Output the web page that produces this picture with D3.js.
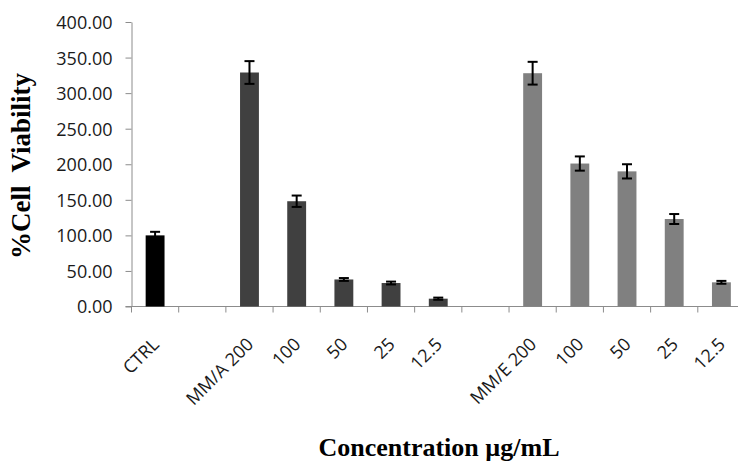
<!DOCTYPE html>
<html>
<head>
<meta charset="utf-8">
<script src="https://cdn.jsdelivr.net/npm/d3@7"></script>
<style>
  body { margin: 0; background: #fff; }
  svg { display: block; }
  .tick-label { font-family: "Open Sans", sans-serif; font-size: 18px; fill: #1a1a1a; }
  .title { font-family: "Liberation Serif", "Times New Roman", serif; font-weight: bold; fill: #000; }
</style>
</head>
<body>
<svg id="chart" width="738" height="476"></svg>
<script>
// categories along the x axis (blank ones are spacer slots)
const categories = ["CTRL", "", "MM/A 200", "100", "50", "25", "12.5", "", "MM/E 200", "100", "50", "25", "12.5"];
const groups = ["ctrl", null, "A", "A", "A", "A", "A", null, "E", "E", "E", "E", "E"];
// % cell viability and error
const viability = [100, null, 329, 148, 38, 33, 11, null, 328, 201, 190, 123, 34];
const errors = [5, null, 16, 8, 2, 2, 1.5, null, 16, 10, 10, 7, 2];
const yTicks = [0, 50, 100, 150, 200, 250, 300, 350, 400];

const colors = {ctrl: "#000000", A: "#404040", E: "#808080"};

let svg = d3.select("#chart");
let margin = {left: 131.5, top: 22, right: -7, bottom: 169.5};
let width = +svg.attr("width") - margin.left - margin.right;
let height = +svg.attr("height") - margin.top - margin.bottom;

let g = svg.append("g").attr("transform", `translate(${margin.left}, ${margin.top})`);

let x = d3.scaleBand()
    .domain(d3.range(categories.length))
    .range([0, width])
    .paddingInner(0.6)
    .paddingOuter(0.3);
let y = d3.scaleLinear().domain([0, 400]).range([height, 0]);

let step = x.step();
let axisColor = "#8c8c8c";

// y axis
let yAxis = g.append("g")
    .call(d3.axisLeft(y).tickValues(yTicks).tickSize(6).tickSizeOuter(0).tickFormat(d3.format(".2f")));
yAxis.select(".domain").attr("stroke", axisColor);
yAxis.selectAll(".tick line").attr("stroke", axisColor);
yAxis.selectAll(".tick text")
    .attr("class", "tick-label")
    .attr("x", -19)
    .attr("dy", "0.36em");

// x axis line + tick marks between categories
g.append("line")
    .attr("x1", -6).attr("x2", width)
    .attr("y1", height).attr("y2", height)
    .attr("stroke", axisColor);
let bounds = d3.range(categories.length + 1).map(i => i * step);
g.selectAll(".xtick")
    .data(bounds)
    .enter()
    .append("line")
    .attr("x1", d => d).attr("x2", d => d)
    .attr("y1", height).attr("y2", height + 6)
    .attr("stroke", axisColor);

// x tick labels, rotated
g.selectAll(".xlabel")
    .data(categories)
    .enter()
    .append("text")
    .attr("class", "tick-label")
    .attr("text-anchor", "end")
    .attr("transform", (d, i) => `translate(${x(i) + x.bandwidth() / 2 + 5}, ${height + 39}) rotate(-45)`)
    .text(d => d);

// bars
let barData = viability.map((v, i) => ({i: i, v: v, e: errors[i], grp: groups[i]})).filter(d => d.v !== null);

g.selectAll(".bar")
    .data(barData)
    .enter()
    .append("rect")
    .attr("x", d => x(d.i))
    .attr("y", d => y(d.v))
    .attr("width", x.bandwidth())
    .attr("height", d => height - y(d.v))
    .attr("fill", d => colors[d.grp]);

// error bars
let capW = 5;
let eb = g.selectAll(".err")
    .data(barData)
    .enter()
    .append("g")
    .attr("stroke", "#000")
    .attr("stroke-width", 2);
eb.append("line")
    .attr("x1", d => x(d.i) + x.bandwidth() / 2).attr("x2", d => x(d.i) + x.bandwidth() / 2)
    .attr("y1", d => y(d.v + d.e)).attr("y2", d => y(d.v - d.e));
eb.append("line")
    .attr("x1", d => x(d.i) + x.bandwidth() / 2 - capW).attr("x2", d => x(d.i) + x.bandwidth() / 2 + capW)
    .attr("y1", d => y(d.v + d.e)).attr("y2", d => y(d.v + d.e));
eb.append("line")
    .attr("x1", d => x(d.i) + x.bandwidth() / 2 - capW).attr("x2", d => x(d.i) + x.bandwidth() / 2 + capW)
    .attr("y1", d => y(d.v - d.e)).attr("y2", d => y(d.v - d.e));

// axis titles
svg.append("text")
    .attr("class", "title")
    .attr("font-size", 27)
    .attr("text-anchor", "middle")
    .attr("transform", `translate(30, 166) rotate(-90)`)
    .style("white-space", "pre")
    .text("%Cell  Viability");

svg.append("text")
    .attr("class", "title")
    .attr("font-size", 26)
    .attr("text-anchor", "middle")
    .attr("x", 439)
    .attr("y", 456)
    .text("Concentration µg/mL");
</script>
</body>
</html>
